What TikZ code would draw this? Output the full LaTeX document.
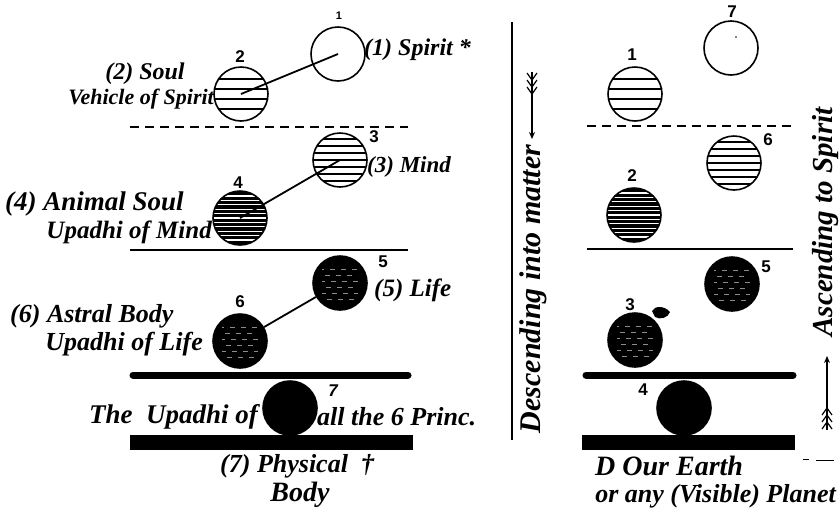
\documentclass[tikz,border=0pt]{standalone}
\usepackage{fontspec}
\setmainfont{Liberation Serif}
\newfontfamily\numfont{Liberation Sans}
\usetikzlibrary{arrows.meta}
\tikzset{
  orb/.style={circle, draw, line width=1.6, minimum size=54, inner sep=0},
  hatchwide/.style={path picture={\foreach \k in {-15,-5,5,15}
      \draw[line width=1.3] ([yshift=\k pt]path picture bounding box.west) -- ([yshift=\k pt]path picture bounding box.east);}},
  hatchmid/.style={path picture={\foreach \k in {-21,-14,...,21}
      \draw[line width=1.3] ([yshift=\k pt]path picture bounding box.west) -- ([yshift=\k pt]path picture bounding box.east);}},
  hatchdense/.style={fill=black, path picture={\foreach \k in {-22,-17.6,...,22}
      \draw[white, line width=1.1] ([yshift=\k pt]path picture bounding box.west) -- ([yshift=\k pt]path picture bounding box.east);}},
  hatchdark/.style={fill=black, path picture={\foreach \k in {-16,-10,...,16}
      \draw[white!55!black, line width=0.5, dash pattern=on 5pt off 6pt, dash phase=\k] ([yshift=\k pt, xshift=9pt]path picture bounding box.west) -- ([yshift=\k pt, xshift=-9pt]path picture bounding box.east);}},
  solidorb/.style={fill=black},
  fs/.style={font=\bfseries\itshape\fontsize{#1}{#1}\selectfont, inner sep=0},
  num/.style={font=\numfont\bfseries\fontsize{17}{17}\selectfont, inner sep=0},
  link/.style={line width=1.8},
  divdash/.style={line width=1.5, dash pattern=on 9pt off 6pt},
  divthin/.style={line width=2.5},
  divthick/.style={line width=7, line cap=round},
  bar/.style={fill=black},
  feather/.style={line width=1.2},
}
\begin{document}
\begin{tikzpicture}[x=1pt,y=-1pt]
\useasboundingbox (0,0) rectangle (840,515);

% ---------------- left diagram ----------------
\node[orb] (c1) at (338,54) {};
\node[orb, hatchwide] (c2) at (241,94) {};
\node[orb, hatchmid] (c3) at (340,160) {};
\node[orb, hatchdense] (c4) at (240,218) {};
\node[orb, hatchdark] (c5) at (340,283) {};
\node[orb, hatchdark] (c6) at (240,341) {};
\node[orb, solidorb] (c7) at (290,408) {};

\draw[link] (c1.center) -- (c2.center);
\draw[link] (c3.center) -- (c4.center);
\draw[link] (c5) -- (c6);

\node[num, font=\numfont\bfseries\fontsize{11}{11}\selectfont] (n1) at (339,16) {1};
\node[num] (n2) at (240,57) {2};
\node[num] (n3) at (374,137) {3};
\node[num] (n4) at (238,183) {4};
\node[num] (n5) at (383,262) {5};
\node[num] (n6) at (240,302) {6};
\node[num, font=\numfont\bfseries\itshape\fontsize{17}{17}\selectfont] (n7) at (333,391) {7};

\node[fs=24, anchor=west] (t1) at (364,50) {(1) Spirit *};
\node[fs=24] (t2a) at (145,74) {(2) Soul};
\node[fs=22, anchor=east] (t2b) at (214,99) {Vehicle of Spirit};
\node[fs=23, anchor=west] (t3) at (367,167) {(3) Mind};
\node[fs=27, anchor=west] (t4a) at (5,204) {(4) Animal Soul};
\node[fs=25, anchor=east] (t4b) at (212,232) {Upadhi of Mind};
\node[fs=25, anchor=west] (t5) at (374,290) {(5) Life};
\node[fs=26, anchor=west] (t6a) at (10,316) {(6) Astral Body};
\node[fs=26, anchor=east] (t6b) at (203,344) {Upadhi of Life};
\node[fs=27, anchor=east] (t7a) at (258,417) {The\ \ Upadhi of};
\node[fs=26, anchor=west] (t7b) at (317,417) {all the 6 Princ.};
\node[fs=26, anchor=west] (t7c) at (220,466) {(7) Physical \ \textdagger};
\node[fs=28] (t7d) at (300,495) {Body};

\coordinate (dl1) at (130,127); \coordinate (dl2) at (408,127);
\draw[divdash] (dl1) -- (dl2);
\coordinate (sl1) at (130,250); \coordinate (sl2) at (408,250);
\draw[divthin] (sl1) -- (sl2);
\coordinate (tl1) at (133,375); \coordinate (tl2) at (408,375);
\draw[divthick] (tl1) -- (tl2);
\fill[bar] (130,435) rectangle (413,450);

% ---------------- middle ----------------
\coordinate (v1) at (512,22); \coordinate (v2) at (512,440);
\draw[line width=2] (v1) -- (v2);
\node[fs=30, rotate=90] (desc) at (533,289) {Descending into matter};
\coordinate (da1) at (532,72); \coordinate (da2) at (532,139);
\draw[line width=1.3, -{Stealth[length=7pt,width=6pt]}] (da1) -- (da2);
\foreach \yy in {80,87,94}
  \draw[feather] (527,\yy-7) -- (532,\yy) -- (537,\yy-7);

% ---------------- right diagram ----------------
\node[orb] (r7) at (731,48) {};
\fill (736,37) circle (0.8);
\node[orb, hatchwide] (r1) at (635,94) {};
\node[orb, hatchmid] (r6) at (734,163) {};
\node[orb, hatchdense] (r2) at (634,215) {};
\node[orb, hatchdark] (r5) at (732,284) {};
\node[orb, hatchdark] (r3) at (635,340) {};
\node[orb, solidorb] (r4) at (684,408) {};
\fill (652,311) .. controls (655,305) and (665,306) .. (670,312) .. controls (668,318) and (660,320) .. (655,317) -- cycle;

\node[num] (m7) at (732,12) {7};
\node[num] (m1) at (632,55) {1};
\node[num] (m6) at (768,140) {6};
\node[num] (m2) at (632,176) {2};
\node[num] (m5) at (766,267) {5};
\node[num] (m3) at (630,305) {3};
\node[num] (m4) at (643,390) {4};

\coordinate (rd1) at (587,126); \coordinate (rd2) at (793,126);
\draw[divdash] (rd1) -- (rd2);
\coordinate (rs1) at (587,249); \coordinate (rs2) at (793,249);
\draw[divthin] (rs1) -- (rs2);
\coordinate (rt1) at (586,375); \coordinate (rt2) at (793,375);
\draw[divthick] (rt1) -- (rt2);
\fill[bar] (582,435) rectangle (795,450);

\node[fs=28, anchor=west] (e1) at (595,466) {D Our Earth};
\node[fs=26, anchor=east] (e2) at (836,496) {or any (Visible) Planet};

\node[fs=29, rotate=90] (asc) at (826,222) {Ascending to Spirit};
\coordinate (ua1) at (827,430); \coordinate (ua2) at (827,356);
\draw[line width=1.3, -{Stealth[length=7pt,width=6pt]}] (ua1) -- (ua2);
\foreach \yy in {408,415,422}
  \draw[feather] (822,\yy+7) -- (827,\yy) -- (832,\yy+7);

\coordinate (q1) at (803,459); \coordinate (q2) at (809,459);
\draw[line width=1] (q1) -- (q2);
\coordinate (q3) at (816,460); \coordinate (q4) at (834,460);
\draw[line width=1] (q3) -- (q4);
\end{tikzpicture}
\end{document}
